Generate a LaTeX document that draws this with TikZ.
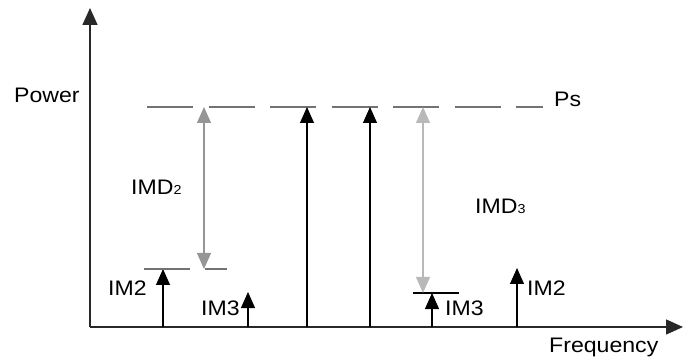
\documentclass[tikz,border=0pt]{standalone}
\usepackage{fontspec}
\setmainfont{Liberation Sans}[FakeStretch=1.1]
\usetikzlibrary{arrows.meta}
\definecolor{axisc}{RGB}{40,40,40}
\definecolor{dashc}{RGB}{115,115,115}
\definecolor{imdtwo}{RGB}{150,150,150}
\definecolor{imdthree}{RGB}{185,185,185}
\begin{document}
\begin{tikzpicture}[x=1pt,y=-1pt,
  lbl/.style={inner sep=0pt, anchor=base west, font=\fontsize{21}{24}\selectfont},
  axisline/.style={draw=axisc, line width=1.5pt, -{Triangle[width=15pt,length=17pt]}},
  sig/.style={draw=black, line width=1.1pt, -{Triangle[width=14pt,length=16pt]}},
  dimarrow/.style={line width=1.2pt, {Triangle[width=14pt,length=16pt]}-{Triangle[width=14pt,length=16pt]}},
  level/.style={line width=1.2pt}]
\useasboundingbox (0,0) rectangle (683,358);
\newcommand{\smallsub}[1]{{\fontsize{13}{13}\selectfont #1}}
% axes
\coordinate (O) at (90,327);
\coordinate (ytop) at (90,8);
\coordinate (xend) at (683,327);
\draw[axisline] (O) -- (ytop);
\draw[axisline] (O) -- (xend);
% labels
\node[lbl] (power) at (14,103) {Power};
\node[lbl] (freq) at (549,352) {Frequency};
\node[lbl] (ps) at (554,107) {Ps};
\node[lbl] (imd2) at (131,195) {IMD\smallsub{2}};
\node[lbl] (imd3) at (475,214) {IMD\smallsub{3}};
\node[lbl] (im2l) at (108,295) {IM2};
\node[lbl] (im3l) at (201,315) {IM3};
\node[lbl] (im3r) at (445,315) {IM3};
\node[lbl] (im2r) at (527,295) {IM2};
% Ps level
\coordinate (psA) at (147,107);
\coordinate (psB) at (543,107);
\draw[dashc, line width=1.2pt, dash pattern=on 46pt off 15.5pt] (psA) -- (psB);
% main tones
\coordinate (t1b) at (307,327); \coordinate (t1t) at (307,107);
\coordinate (t2b) at (370,327); \coordinate (t2t) at (370,107);
\draw[sig] (t1b) -- (t1t);
\draw[sig] (t2b) -- (t2t);
% IM2 left
\coordinate (a1b) at (163,327); \coordinate (a1t) at (163,269);
\draw[sig] (a1b) -- (a1t);
\coordinate (l1a) at (144,269); \coordinate (l1b) at (190,269);
\coordinate (l1c) at (205,269); \coordinate (l1d) at (227,269);
\draw[level, dashc] (l1a) -- (l1b);
\draw[level, dashc] (l1c) -- (l1d);
% IM3 left
\coordinate (a2b) at (248,327); \coordinate (a2t) at (248,292);
\draw[sig] (a2b) -- (a2t);
% IM3 right
\coordinate (a3b) at (432,327); \coordinate (a3t) at (432,293);
\draw[sig] (a3b) -- (a3t);
\coordinate (l2a) at (413,293); \coordinate (l2b) at (459,293);
\draw[level, black] (l2a) -- (l2b);
% IM2 right
\coordinate (a4b) at (517,327); \coordinate (a4t) at (517,268);
\draw[sig] (a4b) -- (a4t);
% IMD dimension arrows
\coordinate (d2t) at (204,107); \coordinate (d2b) at (204,269);
\draw[dimarrow, imdtwo] (d2t) -- (d2b);
\coordinate (d3t) at (423,107); \coordinate (d3b) at (423,293);
\draw[dimarrow, imdthree] (d3t) -- (d3b);
\end{tikzpicture}
\end{document}
